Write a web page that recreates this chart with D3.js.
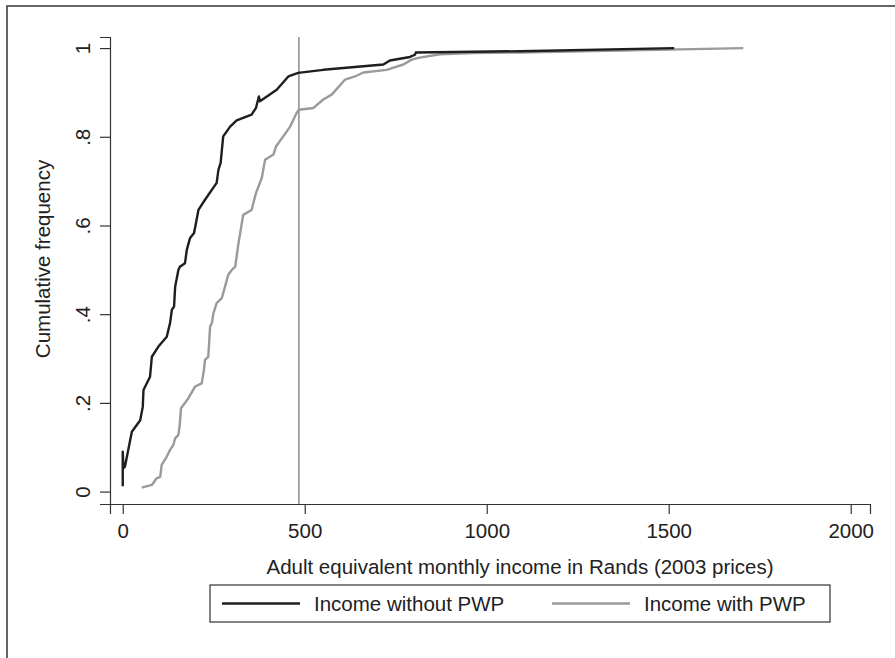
<!DOCTYPE html>
<html>
<head>
<meta charset="utf-8">
<script src="https://cdn.jsdelivr.net/npm/d3@7"></script>
<style>
  body { margin: 0; background: #fff; }
  svg { display: block; font-family: "Liberation Sans", Arial, sans-serif; }
</style>
</head>
<body>
<div id="chart"></div>
<script>
// income (Rands) and cumulative frequency
const incomeWithout = [0, 0, 2, 6, 25, 48, 55, 57, 75, 80, 98, 121, 130, 135, 141, 144, 153, 157, 171, 176, 185, 196, 208, 226, 258, 263, 269, 276, 295, 313, 354, 366, 374, 377, 423, 455, 482, 551, 716, 734, 789, 803, 805, 1091, 1515];
const cumWithout = [0.012, 0.09, 0.053, 0.056, 0.135, 0.161, 0.191, 0.229, 0.259, 0.304, 0.327, 0.349, 0.38, 0.41, 0.417, 0.462, 0.5, 0.507, 0.515, 0.545, 0.572, 0.583, 0.635, 0.658, 0.696, 0.726, 0.741, 0.801, 0.823, 0.837, 0.85, 0.865, 0.891, 0.88, 0.906, 0.936, 0.944, 0.951, 0.963, 0.972, 0.98, 0.985, 0.99, 0.993, 1.0];

const incomeWith = [52, 80, 93, 103, 107, 121, 130, 139, 144, 153, 157, 160, 180, 199, 217, 223, 226, 235, 240, 245, 249, 258, 272, 281, 290, 300, 309, 318, 331, 354, 366, 382, 391, 414, 421, 441, 460, 478, 484, 524, 551, 574, 611, 638, 661, 725, 771, 794, 812, 872, 963, 1091, 1705];
const cumWith = [0.009, 0.015, 0.03, 0.033, 0.06, 0.079, 0.094, 0.105, 0.12, 0.128, 0.154, 0.188, 0.21, 0.237, 0.244, 0.274, 0.297, 0.304, 0.372, 0.38, 0.402, 0.425, 0.436, 0.462, 0.489, 0.5, 0.507, 0.56, 0.624, 0.635, 0.673, 0.707, 0.748, 0.76, 0.778, 0.801, 0.823, 0.854, 0.861, 0.865, 0.884, 0.895, 0.929, 0.936, 0.945, 0.951, 0.963, 0.974, 0.978, 0.986, 0.989, 0.99, 1.0];

const xTicks = [0, 500, 1000, 1500, 2000];
const yTicks = [0, 0.2, 0.4, 0.6, 0.8, 1];
const yTickLabels = ["0", ".2", ".4", ".6", ".8", "1"];
const cutoff = 484;

const seriesNames = ["Income without PWP", "Income with PWP"];
const seriesColors = ["#1e1e1e", "#9a9a9a"];

const W = 895, H = 658;
const fontSize = "20.5px";

const svg = d3.select("#chart").append("svg")
    .attr("width", W)
    .attr("height", H);

// outer frame (only top and left edges show)
svg.append("path")
    .attr("d", `M7,${H} L7,6 L${W},6`)
    .attr("fill", "none")
    .attr("stroke", "#333")
    .attr("stroke-width", 1.5);

// scales, with the small range expansion the original uses
const xScale = d3.scaleLinear().domain([-35, 2053]).range([110, 870]);
const yScale = d3.scaleLinear().domain([-0.028, 1.025]).range([504, 37]);

// x axis
const xAxis = svg.append("g")
    .attr("transform", `translate(0, ${yScale.range()[0]})`)
    .call(d3.axisBottom(xScale).tickValues(xTicks).tickSizeOuter(0).tickSize(10).tickPadding(9).tickFormat(d3.format("d")));

// y axis
const yAxis = svg.append("g")
    .attr("transform", `translate(${xScale.range()[0]}, 0)`)
    .call(d3.axisLeft(yScale).tickValues(yTicks).tickSizeOuter(0).tickSize(10).tickFormat((d, i) => yTickLabels[i]));

yAxis.selectAll(".tick text")
    .attr("transform", "rotate(-90)")
    .attr("x", 0)
    .attr("y", -20)
    .attr("dy", 0)
    .attr("text-anchor", "middle");

[xAxis, yAxis].forEach(a => {
    a.select(".domain").attr("stroke", "#333").attr("stroke-width", 1.2);
    a.selectAll(".tick line").attr("stroke", "#333").attr("stroke-width", 1.2);
    a.selectAll(".tick text").attr("fill", "#222").style("font-size", fontSize);
});

// vertical cut-off line
svg.append("line")
    .attr("x1", xScale(cutoff)).attr("x2", xScale(cutoff))
    .attr("y1", yScale.range()[1]).attr("y2", yScale.range()[0])
    .attr("stroke", "#777")
    .attr("stroke-width", 1.3);

// curves
const line = d3.line()
    .x(d => xScale(d[0]))
    .y(d => yScale(d[1]));

const series = [
    d3.zip(incomeWith, cumWith),
    d3.zip(incomeWithout, cumWithout)
];
const seriesColorOrder = [seriesColors[1], seriesColors[0]];

svg.append("g")
    .selectAll("path")
    .data(series)
    .join("path")
    .attr("d", line)
    .attr("fill", "none")
    .attr("stroke", (d, i) => seriesColorOrder[i])
    .attr("stroke-width", 2.4)
    .attr("stroke-linejoin", "round");

// axis titles
svg.append("text")
    .attr("x", 520)
    .attr("y", 574)
    .attr("text-anchor", "middle")
    .attr("fill", "#222")
    .style("font-size", fontSize)
    .text("Adult equivalent monthly income in Rands (2003 prices)");

svg.append("text")
    .attr("transform", "translate(50, 259) rotate(-90)")
    .attr("text-anchor", "middle")
    .attr("fill", "#222")
    .style("font-size", fontSize)
    .text("Cumulative frequency");

// legend
const legend = svg.append("g");
legend.append("rect")
    .attr("x", 210).attr("y", 585)
    .attr("width", 620).attr("height", 37)
    .attr("fill", "#fff")
    .attr("stroke", "#333")
    .attr("stroke-width", 1.2);

const legendX = [222, 552];
const items = legend.selectAll("g.item")
    .data(seriesNames)
    .join("g")
    .attr("class", "item")
    .attr("transform", (d, i) => `translate(${legendX[i]}, 603.5)`);

items.append("line")
    .attr("x1", 0).attr("x2", 78)
    .attr("stroke", (d, i) => seriesColors[i])
    .attr("stroke-width", 2.4);

items.append("text")
    .attr("x", 92)
    .attr("dy", "0.36em")
    .attr("fill", "#222")
    .style("font-size", fontSize)
    .text(d => d);
</script>
</body>
</html>
